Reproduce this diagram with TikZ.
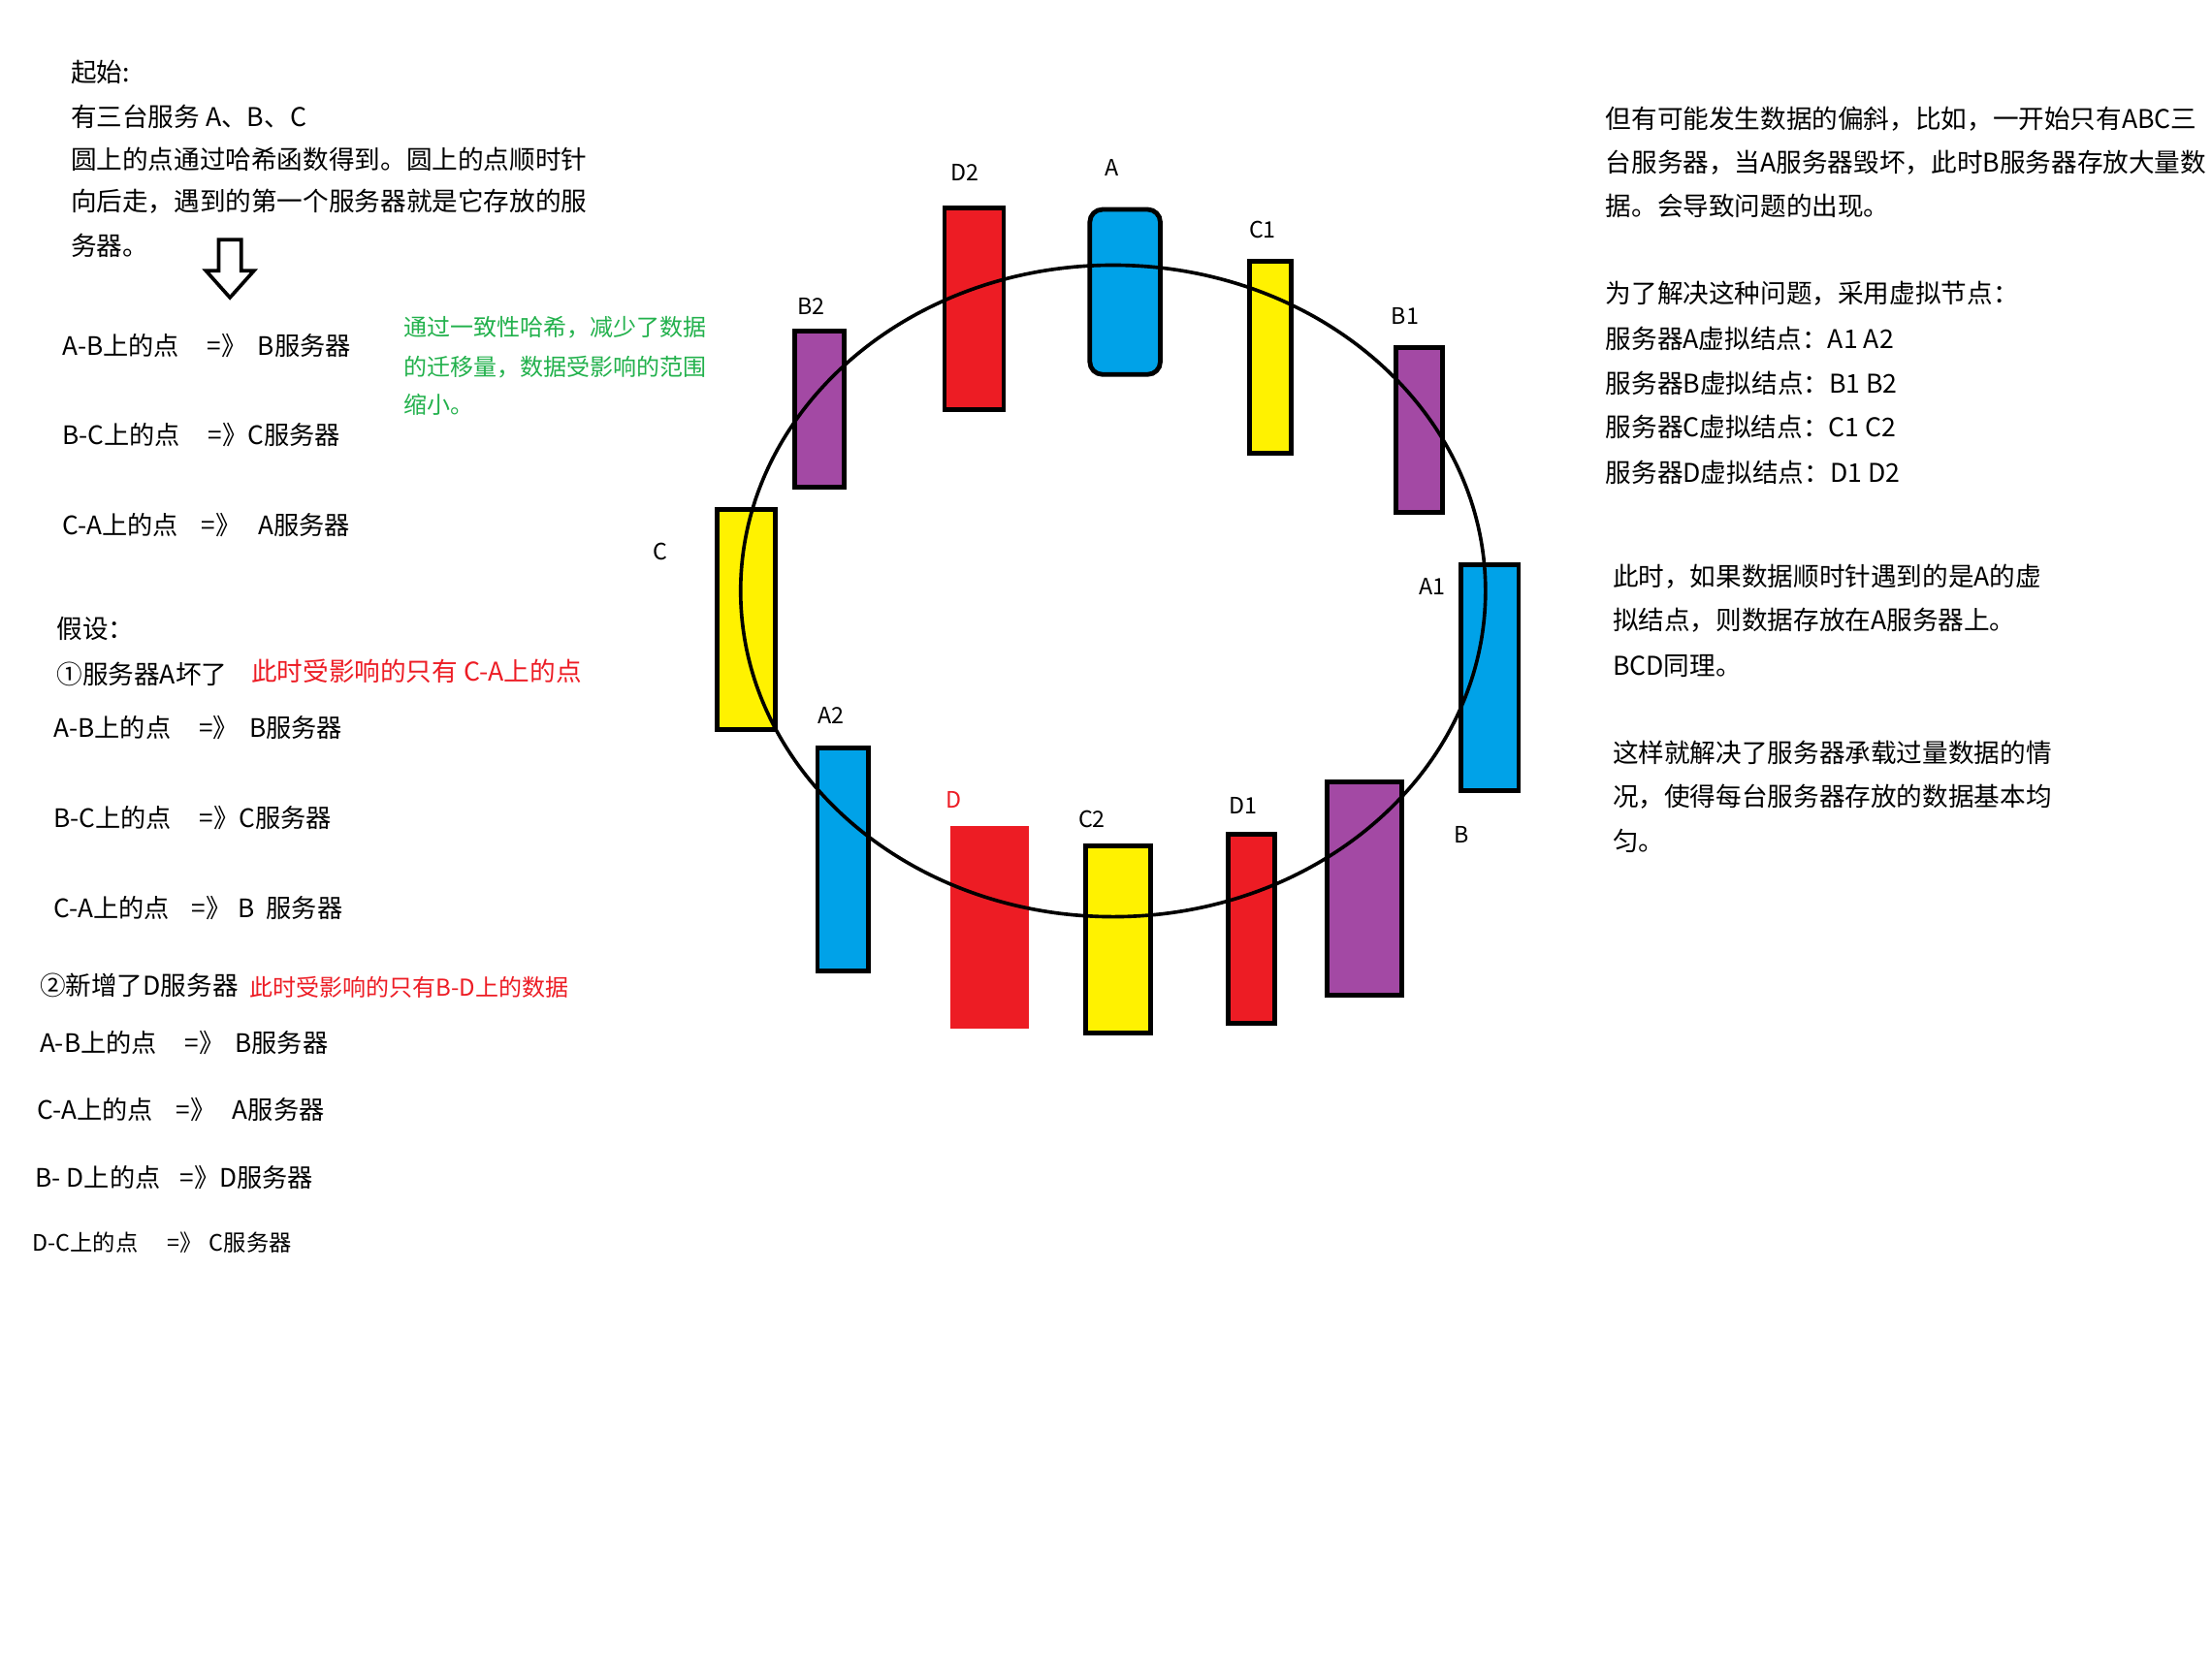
\documentclass[tikz,border=0pt]{standalone}
\usepackage{fontspec}
\setmainfont{Noto Sans CJK SC}
\definecolor{pred}{HTML}{ED1C24}
\definecolor{pblue}{HTML}{00A2E8}
\definecolor{pyel}{HTML}{FFF200}
\definecolor{ppur}{HTML}{A349A4}
\definecolor{pgreen}{HTML}{22B14C}
\newcommand{\fs}[1]{\fontsize{#1}{#1}\selectfont}
\begin{document}
\begin{tikzpicture}[x=1pt,y=-1pt,
  txt/.style={anchor=west,inner sep=0pt,font=\fs{18.3}},
  txs/.style={anchor=west,inner sep=0pt,font=\fs{18}},
  gtxt/.style={anchor=west,inner sep=0pt,font=\fs{16.5},text=pgreen},
  lbl/.style={inner sep=0pt,font=\fs{16}},
  box/.style={draw=black,line width=3.3pt,inner sep=0pt},
]
\useasboundingbox[fill=white] (0,0) rectangle (1568,1172);

% ---------- left text ----------
\node[txt] (t1) at (50,51) {起始:};
\node[txt] (t2) at (50,83) {有三台服务 A、B、C};
\node[txt] (t3) at (50,113) {圆上的点通过哈希函数得到。圆上的点顺时针};
\node[txt] (t4) at (50,143) {向后走，遇到的第一个服务器就是它存放的服};
\node[txt] (t5) at (50,174) {务器。};
\draw[line width=2.5pt,line join=miter] (155,170) -- (171,170) -- (171,192) -- (180,192) -- (163,211) -- (146,192) -- (155,192) -- cycle;

\node[txs] (r1) at (44,245) {A-B上的点\hspace{1.1em}=》\hspace{0.43em}B服务器};
\node[txs] (r2) at (44,308) {B-C上的点\hspace{1.1em}=》C服务器};
\node[txs] (r3) at (44,372) {C-A上的点\hspace{0.92em}=》\hspace{0.67em}A服务器};

\node[gtxt] (g1) at (286,232) {通过一致性哈希，减少了数据};
\node[gtxt] (g2) at (286,260) {的迁移量，数据受影响的范围};
\node[gtxt] (g3) at (286,287) {缩小。};

\node[txt] (h1) at (40,446) {假设：};
\node[txt] (h2) at (40,478) {①服务器A坏了};
\node[txt,text=pred] (h2r) at (178,476) {此时受影响的只有 C-A上的点};
\node[txs] (s1) at (38,516) {A-B上的点\hspace{1.1em}=》\hspace{0.43em}B服务器};
\node[txs] (s2) at (38,580) {B-C上的点\hspace{1.1em}=》C服务器};
\node[txs] (s3) at (38,644) {C-A上的点\hspace{0.86em}=》\hspace{0.28em}B\hspace{0.45em}服务器};

\node[txt] (n1) at (28,699) {②新增了D服务器};
\node[anchor=west,inner sep=0pt,font=\fs{16.5},text=pred] (n1r) at (177,700) {此时受影响的只有B-D上的数据};
\node[txs] (u1) at (28,739) {A-B上的点\hspace{1.1em}=》\hspace{0.43em}B服务器};
\node[txs] (u2) at (26,787) {C-A上的点\hspace{0.92em}=》\hspace{0.67em}A服务器};
\node[txs] (u3) at (25,835) {B- D上的点\hspace{0.78em}=》D服务器};
\node[anchor=west,inner sep=0pt,font=\fs{16}] (u4) at (23,881) {D-C上的点\hspace{1.3em}=》\hspace{0.3em}C服务器};

% ---------- right text ----------
\node[txt] (p1) at (1138,84) {但有可能发生数据的偏斜，比如，一开始只有ABC三};
\node[txt] (p2) at (1138,115) {台服务器，当A服务器毁坏，此时B服务器存放大量数};
\node[txt] (p3) at (1138,146) {据。会导致问题的出现。};
\node[txt] (p4) at (1138,208) {为了解决这种问题，采用虚拟节点：};
\node[txt] (p5) at (1138,240) {服务器A虚拟结点：A1 A2};
\node[txt] (p6) at (1138,272) {服务器B虚拟结点：B1 B2};
\node[txt] (p7) at (1138,303) {服务器C虚拟结点：C1 C2};
\node[txt] (p8) at (1138,335) {服务器D虚拟结点：D1 D2};
\node[txt] (q1) at (1143,409) {此时，如果数据顺时针遇到的是A的虚};
\node[txt] (q2) at (1143,440) {拟结点，则数据存放在A服务器上。};
\node[txt] (q3) at (1143,472) {BCD同理。};
\node[txt] (q4) at (1143,534) {这样就解决了服务器承载过量数据的情};
\node[txt] (q5) at (1143,565) {况，使得每台服务器存放的数据基本均};
\node[txt] (q6) at (1143,596) {匀。};

% ---------- ring nodes ----------
\node[box,fill=pred,minimum width=42pt,minimum height=143pt] (D2) at (690.5,219) {};
\node[box,fill=pblue,rounded corners=9pt,minimum width=50pt,minimum height=117pt] (A) at (797.5,207) {};
\node[box,fill=pyel,minimum width=30pt,minimum height=136pt] (C1) at (900.5,253.5) {};
\node[box,fill=ppur,minimum width=35pt,minimum height=111pt] (B2) at (581,290) {};
\node[box,fill=ppur,minimum width=33pt,minimum height=117pt] (B1) at (1006,305) {};
\node[box,fill=pyel,minimum width=41pt,minimum height=156pt] (C) at (529,439.5) {};
\node[box,fill=pblue,minimum width=41pt,minimum height=160pt] (A1) at (1056,480.5) {};
\node[box,fill=pblue,minimum width=36pt,minimum height=158pt] (A2) at (597.5,609.5) {};
\node[fill=pred,inner sep=0pt,minimum width=55pt,minimum height=143pt] (D) at (701.5,657.5) {};
\node[box,fill=pyel,minimum width=46pt,minimum height=133pt] (C2) at (792.5,666) {};
\node[box,fill=pred,minimum width=33pt,minimum height=134pt] (D1) at (887,658.5) {};
\node[box,fill=ppur,minimum width=53pt,minimum height=151pt] (B) at (967,630) {};

% ring
\draw[line width=2.5pt] (789,419) ellipse [x radius=264, y radius=231];

% labels
\node[lbl] (lD2) at (684,122) {D2};
\node[lbl] (lA) at (788,119) {A};
\node[lbl] (lC1) at (895,163) {C1};
\node[lbl] (lB2) at (575,217) {B2};
\node[lbl] (lB1) at (996,224) {B1};
\node[lbl] (lC) at (468,391) {C};
\node[lbl] (lA1) at (1015,416) {A1};
\node[lbl] (lA2) at (589,507) {A2};
\node[lbl,text=pred] (lD) at (676,567) {D};
\node[lbl] (lC2) at (774,581) {C2};
\node[lbl] (lD1) at (881,571) {D1};
\node[lbl] (lB) at (1036,592) {B};
\end{tikzpicture}
\end{document}
